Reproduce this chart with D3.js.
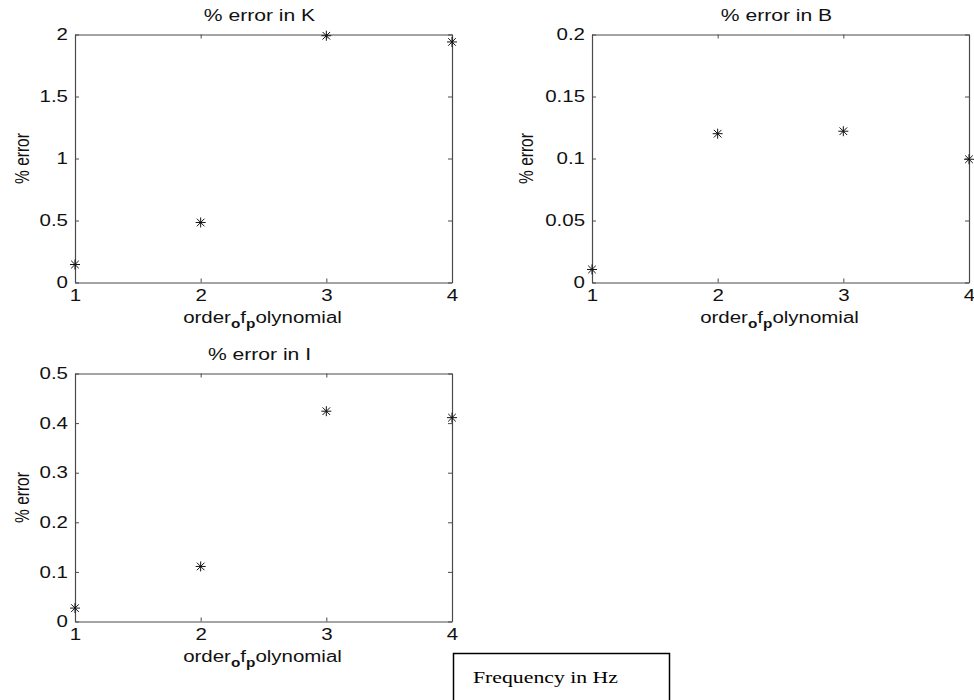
<!DOCTYPE html>
<html>
<head>
<meta charset="utf-8">
<script src="https://cdn.jsdelivr.net/npm/d3@7"></script>
<style>
  html, body { margin: 0; padding: 0; background: #fff; }
  svg { display: block; }
</style>
</head>
<body>
<svg id="chart" width="974" height="700"></svg>
<script>
// ---- data ----
const polyOrders = [1, 2, 3, 4];
const errK = [0.145, 0.484, 1.99, 1.94];
const errB = [0.0105, 0.12, 0.122, 0.0994];
const errI = [0.027, 0.111, 0.424, 0.411];
const yTicksK = [0, 0.5, 1, 1.5, 2];
const yTicksB = [0, 0.05, 0.1, 0.15, 0.2];
const yTicksI = [0, 0.1, 0.2, 0.3, 0.4, 0.5];
const xTicks = [1, 2, 3, 4];
const titles = ["% error in K", "% error in B", "% error in I"];
const yLabel = "% error";
const noteText = "Frequency in Hz";

// ---- layout ----
const panels = [
  { title: titles[0], values: errK, ticks: yTicksK, yMax: 2,   x0: 75,  x1: 452, y0: 34.5,  y1: 282.5, ylx: 22 },
  { title: titles[1], values: errB, ticks: yTicksB, yMax: 0.2, x0: 592, x1: 969, y0: 34.5,  y1: 282.5, ylx: 526 },
  { title: titles[2], values: errI, ticks: yTicksI, yMax: 0.5, x0: 75,  x1: 452, y0: 373.5, y1: 621.5, ylx: 22 }
];

const S = 1.28; // horizontal stretch of the original raster text
const svg = d3.select("#chart");
const font = "'Liberation Sans', Arial, Helvetica, sans-serif";
const axisColor = "#4a4a4a";

function stretch(sel) {
  sel.each(function () {
    const t = d3.select(this);
    const ax = +t.attr("x") || 0;
    t.attr("transform", `translate(${ax * (1 - S)},0) scale(${S},1)`);
  });
}

panels.forEach(p => {
  const x = d3.scaleLinear().domain([1, 4]).range([p.x0, p.x1]);
  const y = d3.scaleLinear().domain([0, p.yMax]).range([p.y1, p.y0]);
  const g = svg.append("g");

  const fmt = d => String(d);

  g.append("g").attr("transform", `translate(${p.x0},0)`)
    .call(d3.axisLeft(y).tickValues(p.ticks).tickSize(-4).tickSizeOuter(0).tickPadding(7).tickFormat(fmt));
  g.append("g").attr("transform", `translate(0,${p.y1})`)
    .call(d3.axisBottom(x).tickValues(xTicks).tickSize(-4).tickSizeOuter(0).tickPadding(7).tickFormat(fmt));
  g.append("g").attr("transform", `translate(${p.x1},0)`)
    .call(d3.axisRight(y).tickValues(p.ticks).tickSize(-4).tickSizeOuter(0).tickFormat(""));
  g.append("g").attr("transform", `translate(0,${p.y0})`)
    .call(d3.axisTop(x).tickValues(xTicks).tickSize(-4).tickSizeOuter(0).tickFormat(""));

  g.selectAll(".domain").attr("stroke", axisColor).attr("stroke-width", 1.2);
  g.selectAll(".tick line").attr("stroke", axisColor).attr("stroke-width", 1);
  g.selectAll(".tick text").attr("fill", "#111").style("font-family", font).style("font-size", "16px")
    .call(stretch);

  // title
  g.append("text")
    .attr("x", (p.x0 + p.x1) / 2 - 4)
    .attr("y", p.y0 - 13)
    .attr("text-anchor", "middle")
    .style("font-family", font).style("font-size", "16.5px").attr("fill", "#111")
    .text(p.title)
    .call(stretch);

  // y label
  g.append("text")
    .attr("transform", `translate(${p.ylx},${(p.y0 + p.y1) / 2}) scale(${S},1) rotate(-90)`)
    .attr("text-anchor", "middle")
    .attr("dy", "0.35em")
    .style("font-family", font).style("font-size", "15.5px").attr("fill", "#111")
    .text(yLabel);

  // x label with subscripts
  const xl = g.append("text")
    .attr("x", (p.x0 + p.x1) / 2 - 1)
    .attr("y", p.y1 + 41)
    .attr("text-anchor", "middle")
    .style("font-family", font).style("font-size", "16px").attr("fill", "#111");
  xl.append("tspan").text("order");
  xl.append("tspan").attr("dy", 5).style("font-size", "12px").style("font-weight", "bold").text("o");
  xl.append("tspan").attr("dy", -5).text("f");
  xl.append("tspan").attr("dy", 5).style("font-size", "12px").style("font-weight", "bold").text("p");
  xl.append("tspan").attr("dy", -5).text("olynomial");
  xl.call(stretch);

  // asterisk markers
  const r = 5, rd = 3.8;
  const star = `M${-r},0L${r},0M0,${-r}L0,${r}M${-rd},${-rd}L${rd},${rd}M${-rd},${rd}L${rd},${-rd}`;
  g.selectAll("path.pt").data(polyOrders.map((o, i) => [o, p.values[i]]))
    .join("path").attr("class", "pt")
    .attr("transform", d => `translate(${x(d[0])},${y(d[1])})`)
    .attr("d", star)
    .attr("stroke", "#111").attr("stroke-width", 1).attr("fill", "none");
});

// note box
svg.append("rect")
  .attr("x", 453.5).attr("y", 653.5).attr("width", 216).attr("height", 60)
  .attr("fill", "#fff").attr("stroke", "#000").attr("stroke-width", 1.5);
svg.append("text")
  .attr("x", 473).attr("y", 683)
  .style("font-family", "'Liberation Serif', 'Times New Roman', serif").style("font-size", "17px")
  .attr("fill", "#000")
  .text(noteText)
  .call(stretch);
</script>
</body>
</html>
